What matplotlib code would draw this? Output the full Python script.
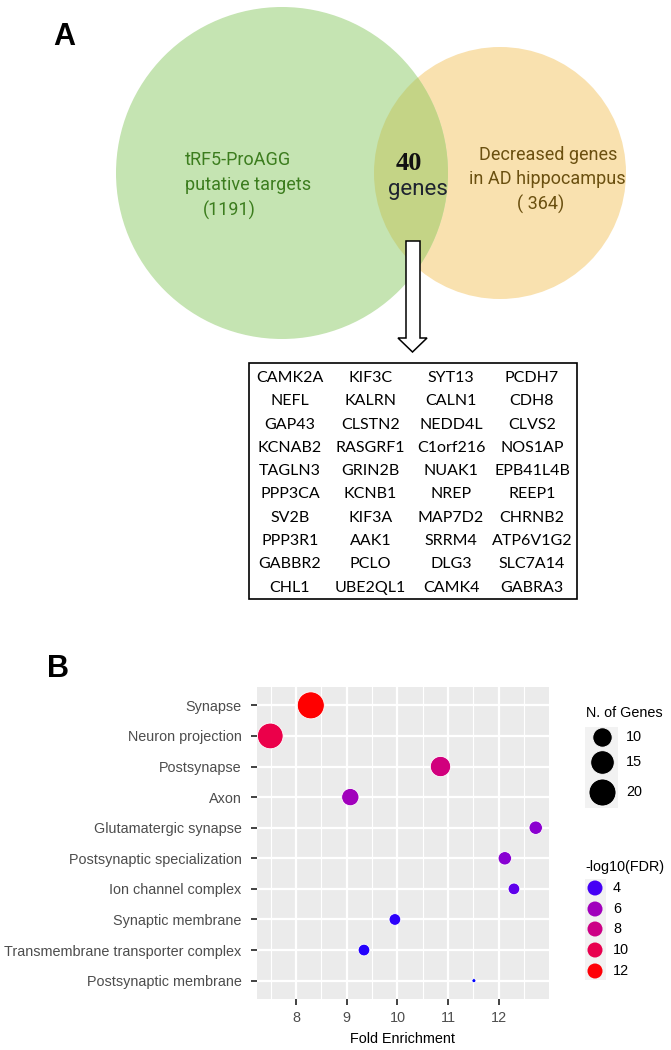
import numpy as np
import matplotlib
matplotlib.use("Agg")
import matplotlib.pyplot as plt
from matplotlib.patches import Circle, Rectangle, Polygon

# ---------------- data ----------------
venn_left_label = ["tRF5-ProAGG", "putative targets", "(1191)"]
venn_right_label = ["Decreased genes", "in AD hippocampus", "( 364)"]
venn_overlap = "40"

genes_col1 = ["CAMK2A", "NEFL", "GAP43", "KCNAB2", "TAGLN3", "PPP3CA", "SV2B", "PPP3R1", "GABBR2", "CHL1"]
genes_col2 = ["KIF3C", "KALRN", "CLSTN2", "RASGRF1", "GRIN2B", "KCNB1", "KIF3A", "AAK1", "PCLO", "UBE2QL1"]
genes_col3 = ["SYT13", "CALN1", "NEDD4L", "C1orf216", "NUAK1", "NREP", "MAP7D2", "SRRM4", "DLG3", "CAMK4"]
genes_col4 = ["PCDH7", "CDH8", "CLVS2", "NOS1AP", "EPB41L4B", "REEP1", "CHRNB2", "ATP6V1G2", "SLC7A14", "GABRA3"]

terms = ["Synapse", "Neuron projection", "Postsynapse", "Axon", "Glutamatergic synapse",
         "Postsynaptic specialization", "Ion channel complex", "Synaptic membrane",
         "Transmembrane transporter complex", "Postsynaptic membrane"]
fold_enrichment = [8.29, 7.49, 10.85, 9.07, 12.73, 12.12, 12.30, 9.95, 9.34, 11.51]
n_genes = [20, 18, 11, 8, 5, 5, 4, 4, 4, 2]
neg_log10_fdr = [12.1, 10.2, 8.3, 6.0, 5.3, 5.2, 4.35, 3.8, 3.75, 3.65]

size_breaks = [10, 15, 20]
color_breaks = [4, 6, 8, 10, 12]
x_ticks = [8, 9, 10, 11, 12]

# ---------------- helpers ----------------
def _srgb_to_lin(c):
    c = np.asarray(c, float)
    return np.where(c <= 0.04045, c / 12.92, ((c + 0.055) / 1.055) ** 2.4)

def _lin_to_srgb(c):
    c = np.asarray(c, float)
    return np.where(c <= 0.0031308, 12.92 * c, 1.055 * np.power(np.clip(c, 0, None), 1 / 2.4) - 0.055)

M = np.array([[0.4124564, 0.3575761, 0.1804375],
              [0.2126729, 0.7151522, 0.0721750],
              [0.0193339, 0.1191920, 0.9503041]])
WHITE = np.array([0.95047, 1.0, 1.08883])

def rgb_to_lab(rgb):
    xyz = M @ _srgb_to_lin(rgb) / WHITE
    f = np.where(xyz > (6 / 29) ** 3, np.cbrt(xyz), xyz / (3 * (6 / 29) ** 2) + 4 / 29)
    return np.array([116 * f[1] - 16, 500 * (f[0] - f[1]), 200 * (f[1] - f[2])])

def lab_to_rgb(lab):
    L, a, b = lab
    fy = (L + 16) / 116
    fx = fy + a / 500
    fz = fy - b / 200
    f = np.array([fx, fy, fz])
    xyz = np.where(f > 6 / 29, f ** 3, 3 * (6 / 29) ** 2 * (f - 4 / 29)) * WHITE
    rgb = _lin_to_srgb(np.linalg.inv(M) @ xyz)
    return tuple(np.clip(rgb, 0, 1))

LAB_LOW = rgb_to_lab([0, 0, 1])
LAB_HIGH = rgb_to_lab([1, 0, 0])
cmin, cmax = min(neg_log10_fdr), max(neg_log10_fdr)

def fdr_color(v):
    t = np.clip((v - cmin) / (cmax - cmin), 0, 1)
    return lab_to_rgb(LAB_LOW + t * (LAB_HIGH - LAB_LOW))

smin, smax = min(n_genes), max(n_genes)
PX = 0.72  # points per pixel at dpi 100

def size_pt2(n):
    d_px = 4 + 23 * np.sqrt((n - smin) / (smax - smin))
    return (d_px * PX) ** 2

# ---------------- figure ----------------
fig = plt.figure(figsize=(6.71, 10.5), dpi=100)
ax0 = fig.add_axes([0, 0, 1, 1])
ax0.set_xlim(0, 671)
ax0.set_ylim(1050, 0)
ax0.axis("off")

# Panel A: Venn
green_c = (282, 173); green_r = 166
orange_c = (500, 173); orange_r = 126
ax0.add_patch(Circle(orange_c, orange_r, facecolor="#F9E1AF", edgecolor="none", zorder=1))
ax0.add_patch(Circle(green_c, green_r, facecolor="#C5E4B2", edgecolor="none", zorder=2))
inter = Circle(green_c, green_r, facecolor="#C4D486", edgecolor="none", zorder=3)
ax0.add_patch(inter)
clipc = Circle(orange_c, orange_r, transform=ax0.transData)
inter.set_clip_path(clipc)

ax0.text(53, 45, "A", fontsize=22, fontweight="bold", family="Liberation Sans", va="baseline", ha="left")
ax0.text(47, 677, "B", fontsize=22, fontweight="bold", family="Liberation Sans", va="baseline", ha="left")

gtxt = dict(family="Roboto", fontsize=13, color="#3C7D1E", fontweight="normal", va="center")
ax0.text(185, 160, venn_left_label[0], ha="left", **gtxt)
ax0.text(185, 185, venn_left_label[1], ha="left", **gtxt)
ax0.text(229, 210, venn_left_label[2], ha="center", **gtxt)

otxt = dict(family="Roboto", fontsize=13, color="#6B5010", fontweight="normal", va="center", ha="center")
ax0.text(548, 155, venn_right_label[0], **otxt)
ax0.text(547, 179, venn_right_label[1], **otxt)
ax0.text(541, 204, venn_right_label[2], **otxt)

ax0.text(409, 163, venn_overlap, family="Liberation Serif", fontweight="bold", fontsize=19,
         color="#111111", ha="center", va="center", zorder=5)
ax0.text(418, 189, "genes", family="Roboto", fontsize=16, color="#1E2330", ha="center",
         va="center", zorder=5)

# hollow arrow
arrow = Polygon([(406, 241), (420, 241), (420, 338), (427, 338), (412.5, 352),
                 (398, 338), (406, 338)], closed=True, facecolor="white",
                edgecolor="black", linewidth=1.1, zorder=6)
ax0.add_patch(arrow)

# gene box
ax0.add_patch(Rectangle((249, 363), 328, 236, facecolor="white", edgecolor="black",
                        linewidth=1.2, zorder=6))
col_x = [290, 370.5, 451, 532]
for cx, col in zip(col_x, [genes_col1, genes_col2, genes_col3, genes_col4]):
    for i, g in enumerate(col):
        ax0.text(cx, 378 + i * 23.3, g, family="Lato", fontsize=11.5, ha="center", va="center",
                 color="black", zorder=7)

# Panel B: dot plot
axB = fig.add_axes([257 / 671, 1 - 999 / 1050, 292 / 671, 312 / 1050])
axB.set_facecolor("#EBEBEB")
ypos = np.arange(len(terms))
colors = [fdr_color(v) for v in neg_log10_fdr]
sizes = [size_pt2(n) for n in n_genes]
axB.scatter(fold_enrichment, ypos, s=sizes, c=colors, edgecolors="white", linewidths=0.6, zorder=3)

rng = max(fold_enrichment) - min(fold_enrichment)
axB.set_xlim(min(fold_enrichment) - 0.05 * rng, max(fold_enrichment) + 0.05 * rng)
axB.set_ylim(len(terms) - 0.4, -0.6)
axB.set_xticks(x_ticks)
axB.set_xticks([t + 0.5 for t in [7] + x_ticks], minor=True)
axB.set_yticks(ypos)
axB.set_yticklabels(terms)
axB.grid(True, which="major", color="white", linewidth=1.6, zorder=0)
axB.grid(True, which="minor", axis="x", color="white", linewidth=0.8, zorder=0)
axB.set_axisbelow(True)
for sp in axB.spines.values():
    sp.set_visible(False)
axB.tick_params(axis="both", which="major", length=4, width=1.3, color="#333333",
                labelsize=10.4, labelcolor="#4D4D4D")
axB.tick_params(axis="y", pad=7)
axB.tick_params(axis="x", pad=5)
axB.tick_params(which="minor", length=0)
for lab in axB.get_xticklabels() + axB.get_yticklabels():
    lab.set_family("Liberation Sans")
axB.set_xlabel("Fold Enrichment", family="Liberation Sans", fontsize=10.4, labelpad=5)

# Legends
ax0.text(586, 713, "N. of Genes", family="Liberation Sans", fontsize=10.4, ha="left", va="center")
ax0.add_patch(Rectangle((585, 727), 33, 81, facecolor="#F2F2F2", edgecolor="none", zorder=1))
for n, yy in zip(size_breaks, [737, 762, 792]):
    ax0.scatter([601.5], [yy], s=size_pt2(n), c="black", edgecolors="white", linewidths=0.6, zorder=3)
    ax0.text(626, yy, str(n), family="Liberation Sans", fontsize=10.4, ha="left", va="center")

ax0.text(585, 867, "-log10(FDR)", family="Liberation Sans", fontsize=10.4, ha="left", va="center")
ax0.add_patch(Rectangle((585, 879), 21, 101, facecolor="#F2F2F2", edgecolor="none", zorder=1))
for v, yy in zip(color_breaks, [888, 909, 929, 950, 971]):
    ax0.scatter([595], [yy], s=(15 * PX) ** 2, color=fdr_color(v), edgecolors="none", zorder=3)
    ax0.text(613, yy, str(v), family="Liberation Sans", fontsize=10.4, ha="left", va="center")

fig.savefig("out.png", dpi=100, facecolor="white")
